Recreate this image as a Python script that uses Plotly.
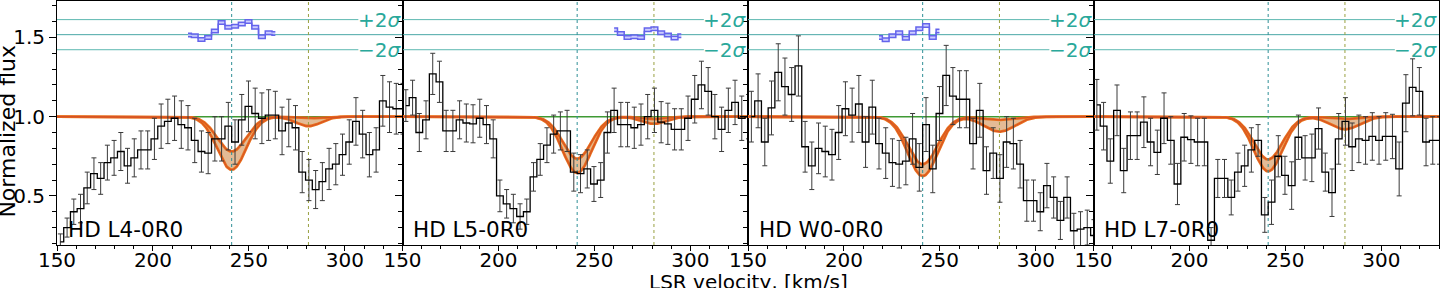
import numpy as np
import plotly.graph_objects as go

# ---------------- data ----------------
vel = [round(151.75 + 3.5 * k, 2) for k in range(52)]  # bin centres, km/s

panel_names = ["HD L4-0R0", "HD L5-0R0", "HD W0-0R0", "HD L7-0R0"]

flux_L4 = [0.21, 0.30, 0.40, 0.42, 0.55, 0.64, 0.61, 0.71, 0.74, 0.78,
           0.69, 0.74, 0.79, 0.79, 0.86, 0.94, 0.97, 0.99, 0.95, 0.93,
           0.85, 0.78, 0.77, 0.86, 0.86, 0.94, 0.84, 0.98, 1.065, 1.02,
           0.99, 1.01, 1.01, 0.91, 0.96, 0.93, 0.65, 0.60, 0.54, 0.59,
           0.67, 0.70, 0.76, 0.84, 0.97, 0.89, 0.76, 0.79, 1.10, 1.06,
           1.05, 1.05]
err_L4 = [0.05, 0.06, 0.08, 0.09, 0.10, 0.10, 0.10, 0.11, 0.11, 0.12,
          0.11, 0.12, 0.12, 0.12, 0.13, 0.14, 0.14, 0.14, 0.15, 0.14,
          0.14, 0.13, 0.13, 0.14, 0.14, 0.15, 0.14, 0.16, 0.16, 0.16,
          0.16, 0.16, 0.15, 0.15, 0.15, 0.14, 0.13, 0.13, 0.12, 0.12,
          0.13, 0.13, 0.13, 0.14, 0.15, 0.15, 0.14, 0.14, 0.16, 0.16,
          0.16, 0.16]

flux_L5 = [1.07, 1.12, 0.90, 0.98, 1.27, 1.22, 0.91, 0.91, 0.98, 0.96,
           0.955, 0.99, 0.95, 0.86, 0.50, 0.45, 0.42, 0.37, 0.40, 0.62,
           0.73, 0.82, 0.89, 0.91, 0.91, 0.65, 0.64, 0.67, 0.575, 0.60,
           0.90, 1.04, 0.95, 0.95, 0.93, 0.95, 1.00, 1.04, 0.965, 0.955,
           0.92, 0.92, 0.99, 1.11, 1.20, 1.16, 1.00, 0.92, 1.04, 1.09,
           0.99, 1.00]
err_L5 = [0.10, 0.11, 0.12, 0.12, 0.13, 0.13, 0.13, 0.13, 0.12, 0.12,
          0.12, 0.12, 0.12, 0.12, 0.10, 0.09, 0.09, 0.08, 0.08, 0.09,
          0.10, 0.11, 0.12, 0.12, 0.13, 0.12, 0.12, 0.12, 0.11, 0.11,
          0.13, 0.14, 0.14, 0.14, 0.13, 0.13, 0.14, 0.14, 0.13, 0.13,
          0.13, 0.13, 0.14, 0.15, 0.15, 0.15, 0.14, 0.14, 0.14, 0.14,
          0.14, 0.14]

flux_W0 = [1.00, 1.10, 0.84, 1.055, 1.28, 1.19, 1.14, 1.32, 0.81, 0.69,
           0.80, 0.78, 0.76, 0.90, 1.05, 1.01, 1.08, 0.84, 1.06, 0.83,
           0.77, 0.71, 0.70, 0.72, 0.86, 0.68, 0.95, 0.67, 1.02, 1.26,
           1.13, 1.11, 1.11, 0.83, 1.04, 0.66, 0.77, 0.61, 0.84, 0.83,
           0.70, 0.47, 0.47, 0.40, 0.565, 0.49, 0.345, 0.49, 0.28, 0.29,
           0.30, 0.25]
err_W0 = [0.16, 0.17, 0.15, 0.17, 0.18, 0.18, 0.17, 0.19, 0.16, 0.15,
          0.16, 0.16, 0.16, 0.17, 0.17, 0.17, 0.18, 0.16, 0.17, 0.16,
          0.16, 0.15, 0.15, 0.15, 0.16, 0.15, 0.17, 0.15, 0.17, 0.19,
          0.18, 0.18, 0.18, 0.16, 0.17, 0.15, 0.16, 0.15, 0.16, 0.16,
          0.15, 0.13, 0.13, 0.12, 0.14, 0.13, 0.12, 0.13, 0.11, 0.11,
          0.11, 0.10]

flux_L7 = [1.075, 0.94, 0.72, 1.04, 0.66, 0.88, 0.88, 0.965, 0.84, 0.775,
           0.99, 0.85, 0.575, 0.87, 0.855, 0.84, 0.84, 0.22, 0.61, 0.61,
           0.49, 0.65, 0.69, 0.79, 0.85, 0.38, 0.46, 0.75, 0.63, 0.565,
           0.87, 0.74, 0.74, 0.925, 0.65, 0.52, 0.86, 0.97, 0.81, 0.86,
           0.85, 0.875, 0.85, 0.875, 0.875, 0.67, 1.085, 1.185, 1.16, 0.84,
           0.85, 0.85]
err_L7 = [0.16, 0.15, 0.14, 0.16, 0.14, 0.15, 0.15, 0.16, 0.15, 0.14,
          0.16, 0.15, 0.13, 0.15, 0.15, 0.15, 0.15, 0.08, 0.12, 0.12,
          0.11, 0.12, 0.13, 0.14, 0.10, 0.11, 0.14, 0.13, 0.12, 0.15,
          0.14, 0.14, 0.15, 0.13, 0.12, 0.15, 0.16, 0.15, 0.15, 0.15,
          0.15, 0.15, 0.15, 0.15, 0.14, 0.17, 0.18, 0.18, 0.15, 0.15,
          0.15, 0.15]

fluxes = [flux_L4, flux_L5, flux_W0, flux_L7]
errors = [err_L4, err_L5, err_W0, err_L7]

# residuals (shifted to ~1.52)
res_v = [
    [218.25, 221.75, 225.25, 228.75, 232.25, 235.75, 239.25, 242.75, 246.25, 249.75, 253.25, 256.75, 260.25, 263.75],
    [260.25, 263.75, 267.25, 270.75, 274.25, 277.75, 281.25, 284.75, 288.25, 291.75, 295.25],
    [218.25, 221.75, 225.25, 228.75, 232.25, 235.75, 239.25, 242.75, 246.25, 249.75],
    [],
]
res_f = [
    [1.515, 1.51, 1.487, 1.50, 1.54, 1.595, 1.565, 1.57, 1.585, 1.60, 1.565, 1.505, 1.53, 1.525],
    [1.548, 1.525, 1.50, 1.505, 1.50, 1.548, 1.555, 1.53, 1.515, 1.497, 1.51],
    [1.50, 1.485, 1.51, 1.53, 1.495, 1.53, 1.555, 1.575, 1.50, 1.54],
    [],
]

# Gaussian fit components (centre, width, depth of lower/upper envelope)
comp1_centre = 241.0
comp2_centre = 281.0
comp1_sigma = [7.5, 7.5, 7.8, 7.5]
comp2_sigma = [6.5, 6.5, 8.0, 7.5]
comp1_depth_lo = [0.335, 0.355, 0.375, 0.345]
comp1_depth_hi = [0.22, 0.265, 0.30, 0.27]
comp2_depth_lo = [0.06, 0.045, 0.095, 0.08]
comp2_depth_hi = [0.01, 0.015, 0.02, 0.015]

sig_hi, sig_mid, sig_lo = 1.6125, 1.5175, 1.4225
sig_line_end = 307.0
x_range = [150, 330]
y_range = [0.19, 1.73]

# ---------------- figure ----------------
FONT = "DejaVu Sans"
TEAL_TXT = "#2aa89a"
TEAL_LINE = "#5cb8b0"
ORANGE = "#e8701c"
RED = "#d24a2a"
FILL = "rgba(214,150,92,0.65)"
BLUE = "#6464ec"

fig = go.Figure()
grid = np.linspace(x_range[0], x_range[1], 721)

for i in range(4):
    xa = "x" if i == 0 else f"x{i+1}"
    ya = "y" if i == 0 else f"y{i+1}"
    g1 = np.exp(-(grid - comp1_centre) ** 2 / (2 * comp1_sigma[i] ** 2))
    g2 = np.exp(-(grid - comp2_centre) ** 2 / (2 * comp2_sigma[i] ** 2))
    lower = 1 - comp1_depth_lo[i] * g1 - comp2_depth_lo[i] * g2
    upper = 1 - comp1_depth_hi[i] * g1 - comp2_depth_hi[i] * g2

    # sigma reference lines
    for yv, xe, col in [(sig_hi, sig_line_end, TEAL_LINE), (sig_mid, x_range[1], "#4aa8a6"), (sig_lo, sig_line_end, TEAL_LINE)]:
        fig.add_trace(go.Scatter(x=[x_range[0], xe], y=[yv, yv], mode="lines",
                                 line=dict(color=col, width=1), xaxis=xa, yaxis=ya, hoverinfo="skip"))
    # continuum
    fig.add_trace(go.Scatter(x=x_range, y=[1, 1], mode="lines", line=dict(color="#3f9a34", width=1.5),
                             xaxis=xa, yaxis=ya, hoverinfo="skip"))
    # fit band
    fig.add_trace(go.Scatter(x=grid, y=upper, mode="lines", line=dict(color=ORANGE, width=2.8),
                             xaxis=xa, yaxis=ya, hoverinfo="skip"))
    fig.add_trace(go.Scatter(x=grid, y=lower, mode="lines", line=dict(color=ORANGE, width=2.8),
                             fill="tonexty", fillcolor=FILL, xaxis=xa, yaxis=ya, hoverinfo="skip"))
    for curve in (upper, lower):
        fig.add_trace(go.Scatter(x=grid, y=curve, mode="lines", line=dict(color=RED, width=0.8),
                                 xaxis=xa, yaxis=ya, hoverinfo="skip"))
    # vertical component markers
    fig.add_trace(go.Scatter(x=[comp1_centre, comp1_centre], y=y_range, mode="lines",
                             line=dict(color="#2f8f96", width=1, dash="dot"), xaxis=xa, yaxis=ya, hoverinfo="skip"))
    fig.add_trace(go.Scatter(x=[comp2_centre, comp2_centre], y=y_range, mode="lines",
                             line=dict(color="#98a040", width=1, dash="dot"), xaxis=xa, yaxis=ya, hoverinfo="skip"))
    # data
    fig.add_trace(go.Scatter(x=vel, y=fluxes[i], mode="markers",
                             marker=dict(size=1, color="rgba(0,0,0,0)"),
                             error_y=dict(type="data", array=errors[i], color="#3a3a3a", thickness=1, width=2.5),
                             xaxis=xa, yaxis=ya, hoverinfo="skip"))
    fig.add_trace(go.Scatter(x=vel, y=fluxes[i], mode="lines", line=dict(color="black", width=1.3, shape="hvh"),
                             xaxis=xa, yaxis=ya, hoverinfo="skip"))
    # residuals
    if res_v[i]:
        rv = res_v[i]
        rf = np.array(res_f[i])
        fig.add_trace(go.Scatter(x=rv, y=rf + 0.011, mode="lines", line=dict(color=BLUE, width=1.5, shape="hvh"),
                                 xaxis=xa, yaxis=ya, hoverinfo="skip"))
        fig.add_trace(go.Scatter(x=rv, y=rf - 0.011, mode="lines", line=dict(color=BLUE, width=1.5, shape="hvh"),
                                 fill="tonexty", fillcolor="rgba(170,170,255,0.6)", xaxis=xa, yaxis=ya, hoverinfo="skip"))

    axis_common = dict(showline=True, linecolor="black", linewidth=1, mirror=True, automargin=False,
                       ticks="outside", tickcolor="black", showgrid=False, zeroline=False,
                       tickfont=dict(family=FONT, size=20, color="black"))
    fig.layout[f"xaxis{'' if i == 0 else i+1}"] = dict(
        domain=[i / 4, (i + 1) / 4], anchor=ya, range=x_range,
        tickvals=[150, 200, 250, 300], ticklen=5, ticklabelstandoff=-8,
        minor=dict(dtick=10, tick0=150, ticklen=3, ticks="outside", tickcolor="black"),
        **axis_common)
    fig.layout[f"yaxis{'' if i == 0 else i+1}"] = dict(
        domain=[0, 1], anchor=xa, range=y_range,
        tickvals=[0.5, 1.0, 1.5], ticktext=["0.5", "1.0", "1.5"], ticklen=7,
        showticklabels=(i == 0),
        minor=dict(dtick=0.1, tick0=0, ticklen=4, ticks="outside", tickcolor="black"),
        **axis_common)

    fig.add_annotation(text=panel_names[i], xref=f"{xa} domain", yref=f"{ya} domain", x=0.026, y=0.005,
                       xanchor="left", yanchor="bottom", showarrow=False,
                       font=dict(family=FONT, size=21.5, color="black"))
    for yv, txt in [(sig_hi, "+2<i>σ</i>"), (sig_lo, "−2<i>σ</i>")]:
        fig.add_annotation(text=txt, xref=f"{xa} domain", yref=ya, x=1.0, y=yv, xanchor="right",
                           yanchor="middle", showarrow=False, xshift=0,
                           font=dict(family=FONT, size=20, color=TEAL_TXT))

fig.add_annotation(text="Normalized flux", xref="paper", yref="paper", x=-0.0365, y=0.467,
                   textangle=-90, xanchor="center", yanchor="middle", showarrow=False,
                   font=dict(family=FONT, size=22, color="black"))
fig.add_annotation(text="LSR velocity, [km/s]", xref="paper", yref="paper", x=0.5, y=-0.15,
                   xanchor="center", yanchor="middle", showarrow=False,
                   font=dict(family=FONT, size=20, color="black"))

fig.update_layout(width=1440, height=288, margin=dict(l=57, r=1, t=1, b=43, autoexpand=False),
                  paper_bgcolor="white", plot_bgcolor="white", showlegend=False,
                  font=dict(family=FONT))

fig.write_html("out.html", config={"displayModeBar": False},
               post_script="document.body.style.margin='0';document.body.style.overflow='hidden';")
